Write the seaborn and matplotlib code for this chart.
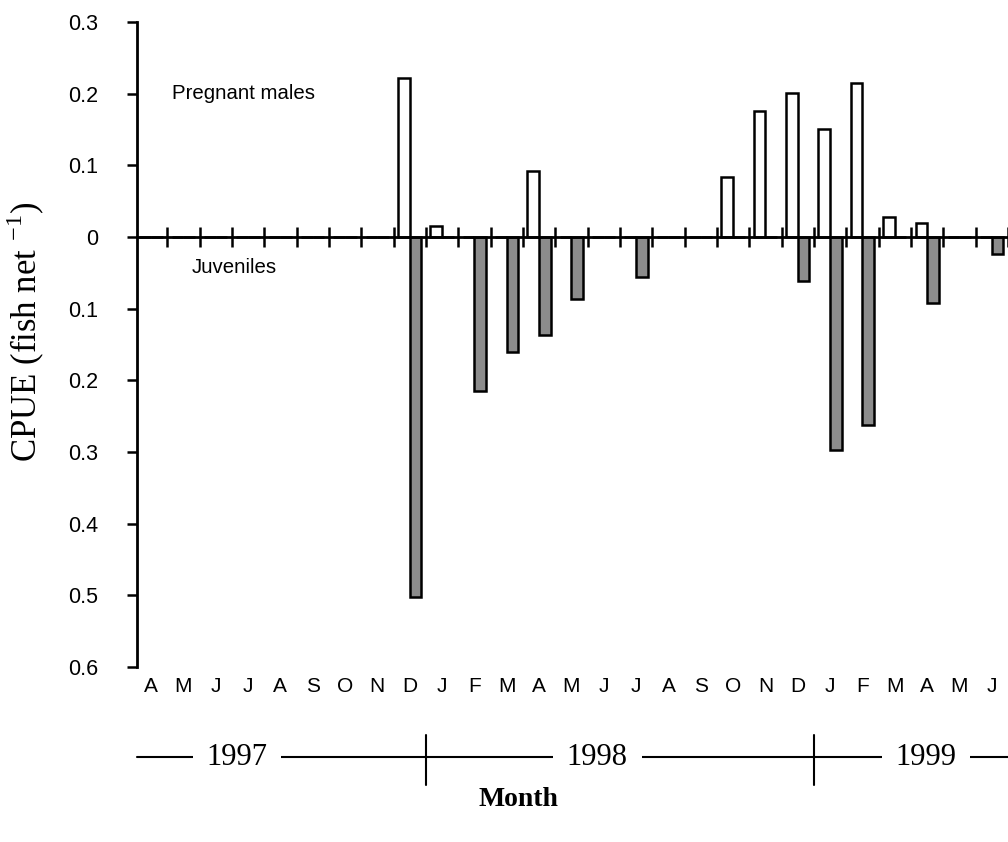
import numpy as np
import pandas as pd
import matplotlib
matplotlib.use("Agg")
import matplotlib.pyplot as plt
import matplotlib.transforms as mtransforms
from matplotlib.ticker import FuncFormatter
import seaborn as sns

# ---- data ----
month_letters = ["A", "M", "J", "J", "A", "S", "O", "N", "D",
                 "J", "F", "M", "A", "M", "J", "J", "A", "S", "O", "N", "D",
                 "J", "F", "M", "A", "M", "J"]
month_ids = [f"m{i:02d}" for i in range(len(month_letters))]
pregnant_males = [0, 0, 0, 0, 0, 0, 0, 0, 0.222,
                  0.015, 0, 0, 0.092, 0, 0, 0, 0, 0, 0.084, 0.176, 0.201,
                  0.151, 0.215, 0.028, 0.020, 0, 0]
juveniles = [0, 0, 0, 0, 0, 0, 0, 0, 0.502,
             0, 0.215, 0.160, 0.137, 0.087, 0, 0.056, 0, 0, 0, 0, 0.061,
             0.298, 0.262, 0, 0.092, 0, 0.024]
years = ["1997", "1998", "1999"]
year_label_pos = [2.66, 13.8, 23.96]
year_breaks = [8.5, 20.5]
y_ticks = [0.3, 0.2, 0.1, 0.0, -0.1, -0.2, -0.3, -0.4, -0.5, -0.6]

df = pd.DataFrame({
    "month": month_ids * 2,
    "group": ["Pregnant males"] * len(month_ids) + ["Juveniles"] * len(month_ids),
    "cpue": list(pregnant_males) + [-v for v in juveniles],
})

sns.set_theme(style="white")
plt.rcParams["font.family"] = ["Liberation Sans", "DejaVu Sans"]
plt.rcParams["text.color"] = "black"
plt.rcParams["axes.labelcolor"] = "black"
plt.rcParams["xtick.color"] = "black"
plt.rcParams["ytick.color"] = "black"

fig = plt.figure(figsize=(10.08, 8.42), dpi=100)
ax = fig.add_axes([0.136, 0.208, 0.864, 0.766])

sns.barplot(data=df, x="month", y="cpue", hue="group", order=month_ids,
            hue_order=["Pregnant males", "Juveniles"],
            palette={"Pregnant males": "white", "Juveniles": "#8c8c8c"},
            dodge=True, width=0.72, edgecolor="black", linewidth=1.8,
            errorbar=None, legend=False, ax=ax, zorder=2)

ax.set_xlim(-0.43, 26.5)
ax.set_ylim(-0.6, 0.3)

# spines
for s in ["top", "right"]:
    ax.spines[s].set_visible(False)
ax.spines["left"].set_linewidth(2.0)
ax.spines["left"].set_color("black")
ax.spines["bottom"].set_position(("data", 0))
ax.spines["bottom"].set_linewidth(2.0)
ax.spines["bottom"].set_color("black")
ax.spines["bottom"].set_zorder(3)

# y axis
ax.set_yticks(y_ticks)
ax.yaxis.set_major_formatter(FuncFormatter(lambda v, p: "0" if abs(v) < 1e-9 else f"{abs(v):.1f}"))
ax.tick_params(axis="y", direction="out", length=7, width=1.8, color="black",
               labelsize=15.5, pad=21, left=True, labelcolor="black")
ax.set_ylabel(r"CPUE (fish net $^{\mathregular{-1}}$)", family="Liberation Serif",
              fontsize=25, color="black")
ax.yaxis.set_label_coords(-0.103, 0.52)

# boundary ticks on zero line
ax.set_xticks(np.arange(0.5, len(month_letters), 1.0))
ax.tick_params(axis="x", direction="inout", length=14, width=1.8, color="black",
               labelbottom=False, bottom=True)
ax.set_xlabel("")

# month letters at the bottom
sec = ax.secondary_xaxis("bottom")
sec.set_xticks(range(len(month_letters)))
sec.set_xticklabels(month_letters)
sec.tick_params(axis="x", length=0, labelsize=15, pad=7, labelcolor="black")
sec.spines["bottom"].set_visible(False)

# year line
trans = mtransforms.blended_transform_factory(ax.transData, ax.transAxes)
ax.plot([-0.43, 26.5], [-0.140, -0.140], color="black", lw=1.5,
        transform=trans, clip_on=False)
for xb in year_breaks:
    ax.plot([xb, xb], [-0.105, -0.183], color="black", lw=1.5,
            transform=trans, clip_on=False)
for yr, xp in zip(years, year_label_pos):
    ax.text(xp, -0.140, yr, transform=trans, ha="center", va="center",
            family="Liberation Serif", fontsize=22, color="black",
            bbox=dict(facecolor="white", edgecolor="none", pad=10))

fig.text(518 / 1008, 1 - 800 / 842, "Month", ha="center", va="center",
         family="Liberation Serif", fontsize=20, fontweight="bold", color="black")

# series annotations
ax.text(0.65, 0.2, "Pregnant males", ha="left", va="center", fontsize=14.7, color="black")
ax.text(1.27, -0.043, "Juveniles", ha="left", va="center", fontsize=14.7, color="black")

fig.savefig("out.png", dpi=100)
